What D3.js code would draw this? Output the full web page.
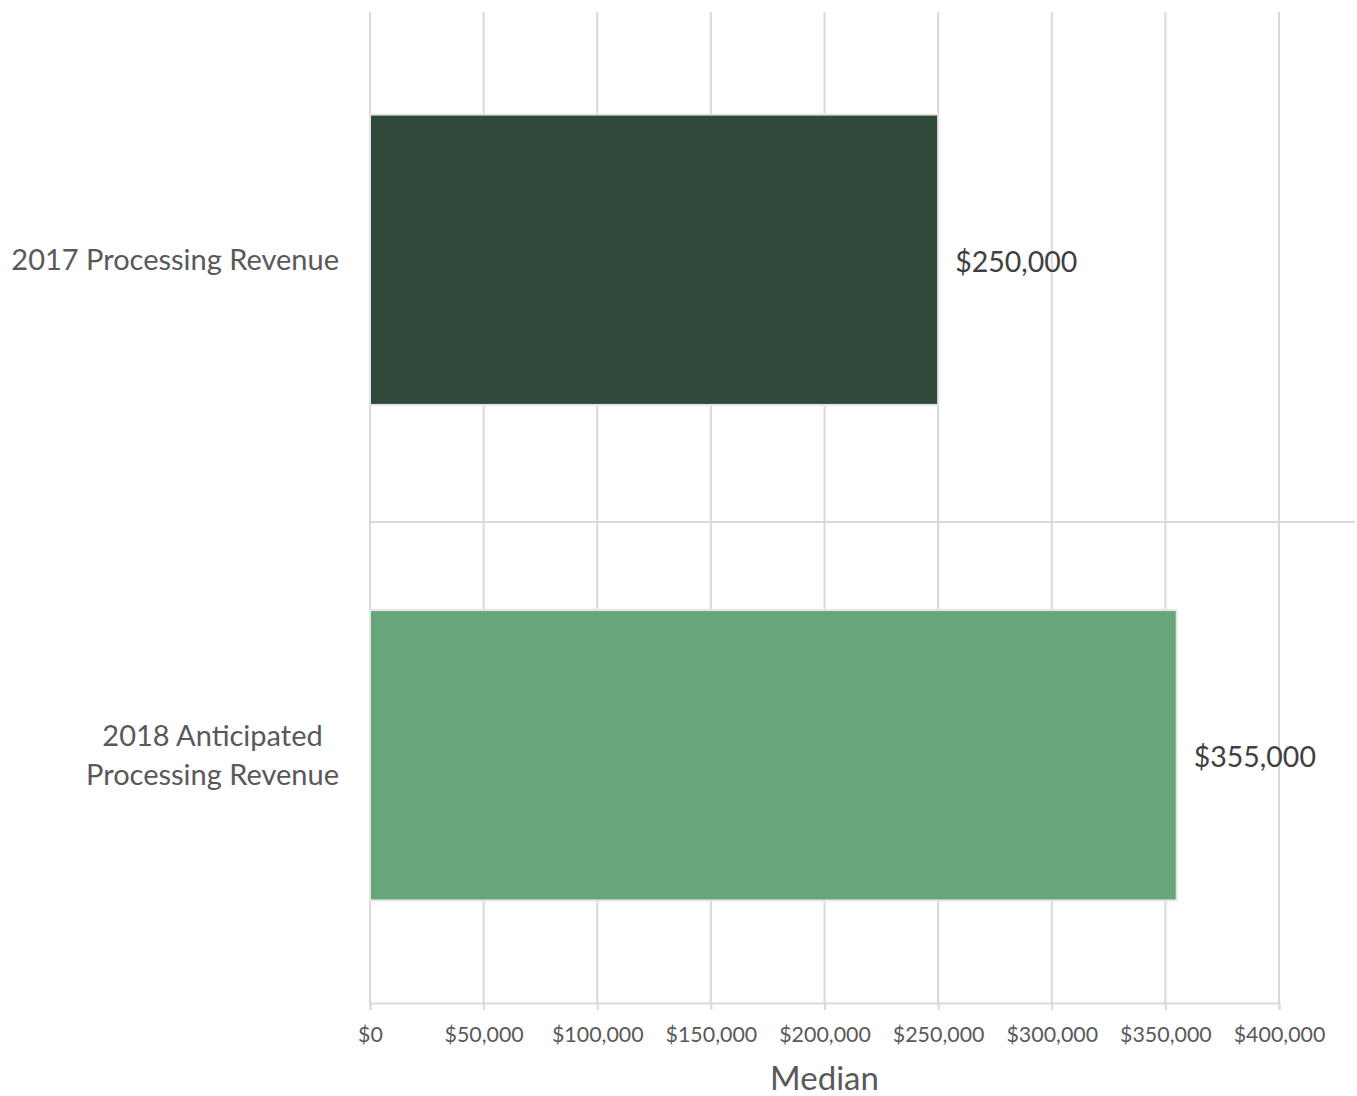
<!DOCTYPE html>
<html>
<head>
<meta charset="utf-8">
<script src="https://cdn.jsdelivr.net/npm/d3@7"></script>
<style>
  html, body { margin: 0; padding: 0; background: #ffffff; }
  svg { display: block; font-family: Lato, "Open Sans", sans-serif; }
</style>
</head>
<body>
<svg id="chart" width="1357" height="1096"></svg>
<script>
// Median processing revenue by category
const categories = ["2017 Processing Revenue", "2018 Anticipated Processing Revenue"];
const categoryLines = [["2017 Processing Revenue"], ["2018 Anticipated", "Processing Revenue"]];
const values = [250000, 355000];
const barColors = ["#2f4a3a", "#67a67b"];
const tickValues = [0, 50000, 100000, 150000, 200000, 250000, 300000, 350000, 400000];
const axisTitle = "Median";

const svg = d3.select("#chart");
const margin = { top: 12, left: 370, right: 78, bottom: 93 };
const width = 1357 - margin.left - margin.right;
const height = 1096 - margin.top - margin.bottom;

const x = d3.scaleLinear().domain([0, 400000]).range([0, width]);
const y = d3.scaleBand().domain(categories).range([0, height]).paddingInner(0.414).paddingOuter(0.207);

const fmt = v => "$" + d3.format(",")(v);

const g = svg.append("g").attr("transform", `translate(${margin.left},${margin.top})`);

// vertical gridlines
g.append("g")
  .selectAll("line")
  .data(tickValues)
  .join("line")
  .attr("x1", d => x(d)).attr("x2", d => x(d))
  .attr("y1", 0).attr("y2", height)
  .attr("stroke", "#d9d9d9").attr("stroke-width", 2);

// separator between the two categories
g.append("line")
  .attr("x1", 0).attr("x2", 1355 - margin.left)
  .attr("y1", 510).attr("y2", 510)
  .attr("stroke", "#d9d9d9").attr("stroke-width", 2);

// bottom axis
const xAxis = d3.axisBottom(x).tickValues(tickValues).tickFormat(fmt).tickSize(7).tickPadding(17);
const axisG = g.append("g").attr("transform", `translate(0,${height})`).call(xAxis);
axisG.select(".domain").attr("stroke", "#d9d9d9").attr("stroke-width", 2);
axisG.selectAll(".tick line").attr("stroke", "#d9d9d9").attr("stroke-width", 2);
axisG.selectAll(".tick text")
  .attr("fill", "#595959")
  .attr("font-size", 21.4)
  .attr("font-family", "Lato, 'Open Sans', sans-serif");

// bars
g.selectAll("rect.bar")
  .data(categories)
  .join("rect")
  .attr("class", "bar")
  .attr("x", x(0))
  .attr("y", d => y(d))
  .attr("width", (d, i) => x(values[i]) - x(0))
  .attr("height", y.bandwidth())
  .attr("fill", (d, i) => barColors[i])
  .attr("stroke", "#e6e6e6")
  .attr("stroke-width", 2);

// value labels
g.selectAll("text.value")
  .data(categories)
  .join("text")
  .attr("class", "value")
  .attr("x", (d, i) => x(values[i]) + 17)
  .attr("y", d => y(d) + y.bandwidth() / 2 + 2)
  .attr("dy", "0.35em")
  .attr("fill", "#404040")
  .attr("font-size", 28.5)
  .text((d, i) => fmt(values[i]));

// category labels, lines centred within a right-aligned block
const labelG = svg.append("g");
categories.forEach((c, i) => {
  const lines = categoryLines[i];
  const cy = margin.top + y(c) + y.bandwidth() / 2;
  const lh = 39;
  const t = labelG.append("text")
    .attr("fill", "#595959")
    .attr("font-size", 29)
    .attr("text-anchor", "middle");
  lines.forEach((ln, j) => {
    t.append("tspan").attr("x", 0).attr("y", cy + (j - (lines.length - 1) / 2) * lh).attr("dy", "0.35em").text(ln);
  });
  const w = t.node().getBBox().width;
  t.attr("transform", `translate(${339 - w / 2},0)`);
});

// axis title
svg.append("text")
  .attr("x", margin.left + width / 2)
  .attr("y", 1078)
  .attr("dy", "0.35em")
  .attr("text-anchor", "middle")
  .attr("fill", "#595959")
  .attr("font-size", 33)
  .text(axisTitle);
</script>
</body>
</html>
